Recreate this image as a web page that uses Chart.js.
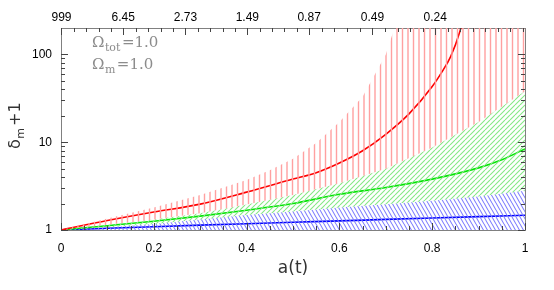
<!DOCTYPE html>
<html>
<head>
<meta charset="utf-8">
<script src="https://cdn.jsdelivr.net/npm/chart.js@4/dist/chart.umd.min.js"></script>
<style>
  body { margin: 0; background: #fff; }
  #c { display: block; }
</style>
</head>
<body>
<canvas id="c" width="554" height="290"></canvas>
<script>
// curves: delta_m + 1 against a(t)
const redA = [0, 0.1, 0.2, 0.3, 0.4, 0.5, 0.55, 0.6, 0.65, 0.7, 0.75, 0.8, 0.82, 0.84, 0.86, 0.87];
const redVals = [1, 1.28, 1.6, 1.97, 2.7, 3.8, 4.5, 5.8, 8.0, 12.3, 21, 43, 62, 95, 185, 300];

const greenA = [0, 0.1, 0.2, 0.3, 0.4, 0.5, 0.6, 0.7, 0.8, 0.9, 0.95, 1];
const greenVals = [1, 1.12, 1.26, 1.44, 1.68, 2.0, 2.55, 3.05, 3.8, 5.1, 6.3, 8.4];

const blueA = [0, 0.1, 0.2, 0.3, 0.4, 0.5, 0.6, 0.7, 0.8, 0.9, 1];
const blueVals = [1, 1.045, 1.09, 1.135, 1.18, 1.225, 1.27, 1.32, 1.37, 1.42, 1.47];

// hatched bands (upper edges; each band sits on the next one)
const redTopA = [0, 0.1, 0.2, 0.3, 0.4, 0.45, 0.5, 0.55, 0.6, 0.65, 0.7, 0.72, 0.74, 1];
const redTopVals = [1, 1.35, 1.8, 2.5, 3.7, 4.8, 6.5, 9.8, 17, 33, 100, 210, 1000, 1000];
const bandA = [0, 0.1, 0.2, 0.3, 0.4, 0.5, 0.6, 0.7, 0.8, 0.9, 1];
const greenTopVals = [1, 1.15, 1.32, 1.55, 1.95, 2.5, 3.4, 5.0, 8.7, 17, 38];
const blueTopVals = [1, 1.07, 1.17, 1.32, 1.48, 1.62, 1.8, 1.97, 2.15, 2.4, 2.8];

// axes
const xTicks = [0, 0.2, 0.4, 0.6, 0.8, 1];
const yTicks = [1, 10, 100];
const yMinor = [2, 3, 4, 5, 6, 7, 8, 9, 20, 30, 40, 50, 60, 70, 80, 90];
const topLabels = ['999', '6.45', '2.73', '1.49', '0.87', '0.49', '0.24'];
const topA = topLabels.map(z => 1 / (1 + parseFloat(z)));

const zip = (xs, ys) => xs.map((x, i) => ({ x, y: ys[i] }));

function hatch(w, h, dir, color, lw) {
  const c = document.createElement('canvas');
  c.width = w; c.height = h;
  const g = c.getContext('2d');
  g.strokeStyle = color;
  g.lineWidth = lw;
  g.beginPath();
  if (dir === 'v') {
    g.moveTo(1, 0); g.lineTo(1, h);
    g.moveTo(6.5, 0); g.lineTo(6.5, h);
  } else {
    for (const o of [-w, 0, w]) {
      if (dir === '/') { g.moveTo(o, h); g.lineTo(o + w, 0); }
      else { g.moveTo(o, 0); g.lineTo(o + w, h); }
    }
  }
  g.stroke();
  return g.createPattern(c, 'repeat');
}

const redHatch = hatch(11, 4, 'v', '#ffa0a0', 1.4);
const greenHatch = hatch(5, 5, '/', '#86e886', 1.1);
const blueHatch = hatch(4, 7, '\\', '#8080ff', 1.1);

const band = (data, fill, bg) => ({
  data, fill, backgroundColor: bg, borderWidth: 0, pointRadius: 0, tension: 0
});
const curve = (data, color) => ({
  data, fill: false, borderColor: color, borderWidth: 1.6, pointRadius: 0,
  cubicInterpolationMode: 'monotone'
});

const fix = (prop, v) => (s) => { s[prop] = v; };

const decor = {
  id: 'decor',
  afterDraw(chart) {
    const { ctx, chartArea: ca } = chart;
    const x = chart.scales.x, y = chart.scales.y;
    ctx.save();
    ctx.strokeStyle = '#444';
    ctx.lineWidth = 1;
    ctx.beginPath();
    const vt = (px, len) => {
      px = Math.round(px) + 0.5;
      ctx.moveTo(px, ca.bottom); ctx.lineTo(px, ca.bottom - len);
    };
    const vtTop = (px, len) => {
      px = Math.round(px) + 0.5;
      ctx.moveTo(px, ca.top); ctx.lineTo(px, ca.top + len);
    };
    const ht = (py, len) => {
      py = Math.round(py) + 0.5;
      ctx.moveTo(ca.left, py); ctx.lineTo(ca.left + len, py);
      ctx.moveTo(ca.right, py); ctx.lineTo(ca.right - len, py);
    };
    // bottom axis
    for (let i = 0; i <= 20; i++) {
      vt(x.getPixelForValue(i / 20), i % 4 === 0 ? 7 : 4);
    }
    // top axis: five divisions between labels, same step after the last one
    const step = (topA[topA.length - 1] - topA[1]) / (topA.length - 2) / 5;
    for (let i = 0; i < topA.length; i++) {
      vtTop(x.getPixelForValue(topA[i]), 7);
      const last = i === topA.length - 1;
      const d = last ? step : (topA[i + 1] - topA[i]) / 5;
      for (let k = 1; ; k++) {
        const v = topA[i] + k * d;
        if ((!last && k >= 5) || v > 1) break;
        vtTop(x.getPixelForValue(v), 4);
      }
    }
    // left/right axes
    yTicks.forEach(v => ht(y.getPixelForValue(v), 7));
    yMinor.forEach(v => ht(y.getPixelForValue(v), 4));
    ctx.stroke();

    // annotation
    ctx.fillStyle = '#8c8c8c';
    ctx.textBaseline = 'alphabetic';
    const big = '15px "DejaVu Serif", serif';
    const small = '11px "DejaVu Serif", serif';
    const line = (x0, yb, sub, rest) => {
      ctx.font = big; ctx.fillText('\u03A9', x0, yb);
      let xx = x0 + ctx.measureText('\u03A9').width + 0.5;
      ctx.font = small; ctx.fillText(sub, xx, yb + 4);
      xx += ctx.measureText(sub).width + 1.5;
      ctx.font = big; ctx.fillText(rest, xx, yb);
    };
    line(92, 47, 'tot', '=1.0');
    line(92, 69, 'm', '=1.0');

    // axis titles
    ctx.fillStyle = '#333';
    ctx.font = '17px "DejaVu Sans", sans-serif';
    ctx.textAlign = 'center';
    ctx.fillText('a(t)', (ca.left + ca.right) / 2, 273);

    ctx.save();
    ctx.translate(20, 149);
    ctx.rotate(-Math.PI / 2);
    ctx.textAlign = 'left';
    ctx.font = '16px "DejaVu Sans", sans-serif';
    ctx.fillText('\u03B4', 0, 0);
    let xx = ctx.measureText('\u03B4').width + 0.5;
    ctx.font = '11px "DejaVu Sans", sans-serif';
    ctx.fillText('m', xx, 4);
    xx += ctx.measureText('m').width + 2;
    ctx.font = '16px "DejaVu Sans", sans-serif';
    ctx.fillText('+1', xx, 0);
    ctx.restore();
    ctx.restore();
  }
};

Chart.defaults.font.family = '"Liberation Sans", Arial, sans-serif';
Chart.defaults.font.size = 12;
Chart.defaults.color = '#000';

const tickFont = { size: 12 };
const frame = { display: true, color: '#808080', width: 1 };

new Chart(document.getElementById('c'), {
  type: 'line',
  data: {
    datasets: [
      band(zip(redTopA, redTopVals), 1, redHatch),
      band(zip(bandA, greenTopVals), 2, greenHatch),
      band(zip(bandA, blueTopVals), 'start', blueHatch),
      curve(zip(redA, redVals), '#ff0000'),
      curve(zip(greenA, greenVals), '#00e600'),
      curve(zip(blueA, blueVals), '#0000ff')
    ]
  },
  options: {
    responsive: false,
    animation: false,
    devicePixelRatio: 1,
    layout: { padding: 0 },
    plugins: { legend: { display: false }, tooltip: { enabled: false } },
    scales: {
      x: {
        type: 'linear', position: 'bottom', min: 0, max: 1,
        grid: { display: false, drawTicks: false },
        border: frame,
        afterBuildTicks: s => { s.ticks = xTicks.map(v => ({ value: v })); },
        ticks: { padding: 11, font: tickFont, autoSkip: false, maxRotation: 0,
                 callback: v => String(v) },
        afterFit: fix('height', 60)
      },
      x2: {
        type: 'linear', position: 'top', min: 0, max: 1,
        grid: { display: false, drawTicks: false },
        border: frame,
        afterBuildTicks: s => { s.ticks = topA.map(v => ({ value: v })); },
        ticks: { padding: 3, font: tickFont, autoSkip: false, maxRotation: 0,
                 callback: (v, i) => topLabels[i] },
        afterFit: fix('height', 28)
      },
      y: {
        type: 'logarithmic', position: 'left', min: 1, max: 200,
        grid: { display: false, drawTicks: false },
        border: frame,
        afterBuildTicks: s => { s.ticks = yTicks.map(v => ({ value: v })); },
        ticks: { padding: 9, font: tickFont, autoSkip: false,
                 callback: v => String(v) },
        afterFit: fix('width', 61)
      },
      y2: {
        type: 'logarithmic', position: 'right', min: 1, max: 200,
        grid: { display: false, drawTicks: false },
        border: frame,
        ticks: { display: false },
        afterFit: fix('width', 29)
      }
    }
  },
  plugins: [decor]
});
</script>
</body>
</html>
